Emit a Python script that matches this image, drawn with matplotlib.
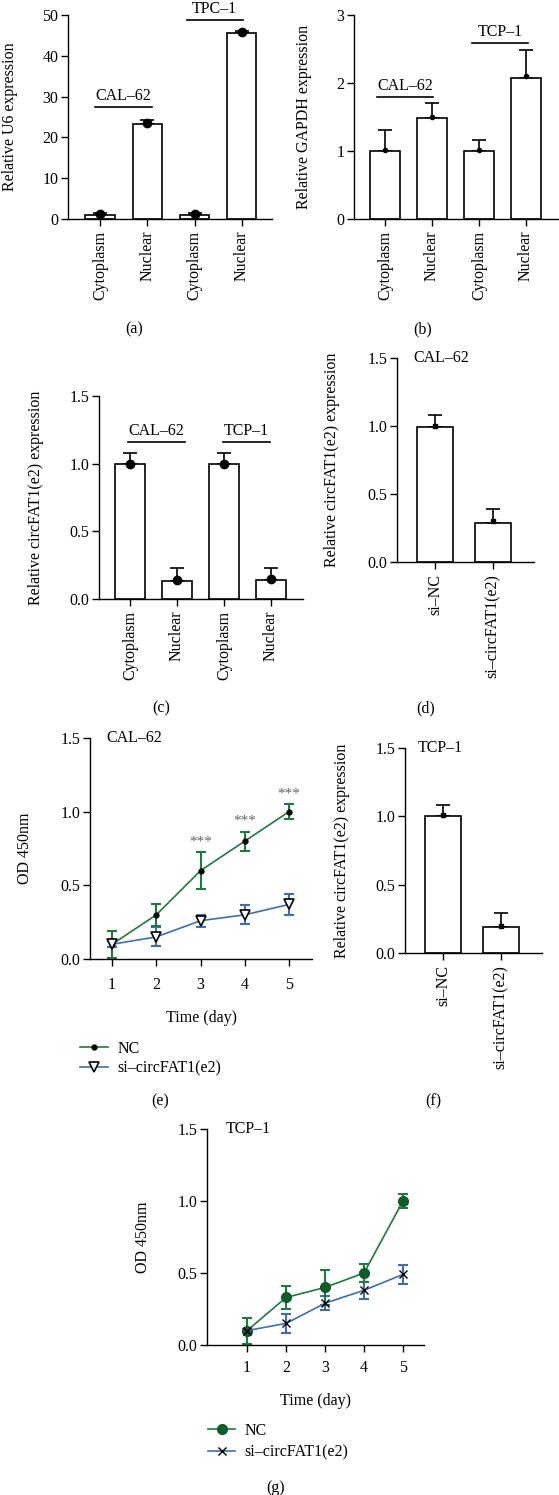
import numpy as np
import matplotlib
matplotlib.use('Agg')
from matplotlib import pyplot as plt

plt.rcParams['font.family'] = ['Liberation Serif', 'DejaVu Serif']
plt.rcParams['font.size'] = 11.5
plt.rcParams['axes.linewidth'] = 1.0
plt.rcParams['xtick.major.width'] = 1.0
plt.rcParams['ytick.major.width'] = 1.0
plt.rcParams['xtick.major.size'] = 5
plt.rcParams['ytick.major.size'] = 5
plt.rcParams['ytick.major.pad'] = 2

# (a) U6
a_labels = ["Cytoplasm", "Nuclear", "Cytoplasm", "Nuclear"]
a_bars = [1.0, 23.2, 1.0, 45.5]
a_pts = [1.2, 23.6, 1.2, 45.8]
a_err = [0.4, 1.0, 0.4, 0.7]

# (b) GAPDH
b_labels = ["Cytoplasm", "Nuclear", "Cytoplasm", "Nuclear"]
b_bars = [1.0, 1.49, 1.0, 2.08]
b_pts = [1.02, 1.5, 1.02, 2.1]
b_err = [0.31, 0.22, 0.16, 0.41]

# (c) circFAT1(e2) localisation
c_labels = ["Cytoplasm", "Nuclear", "Cytoplasm", "Nuclear"]
c_bars = [1.0, 0.13, 1.0, 0.14]
c_pts = [1.0, 0.14, 1.0, 0.15]
c_err = [0.08, 0.10, 0.08, 0.09]

# (d) CAL-62 knockdown, (f) TCP-1 knockdown
kd_labels = ["si–NC", "si–circFAT1(e2)"]
d_bars = [0.99, 0.29]
d_pts = [1.0, 0.3]
d_err = [0.09, 0.10]
f_bars = [1.0, 0.19]
f_pts = [1.01, 0.2]
f_err = [0.08, 0.10]

# (e) CAL-62 CCK-8, (g) TCP-1 CCK-8
days = [1, 2, 3, 4, 5]
e_nc = [0.1, 0.3, 0.6, 0.8, 1.0]
e_nc_err = [0.09, 0.075, 0.125, 0.065, 0.05]
e_si = [0.1, 0.15, 0.26, 0.3, 0.37]
e_si_err = [0.02, 0.065, 0.04, 0.065, 0.07]
e_sig = ["", "", "***", "***", "***"]

g_nc = [0.1, 0.33, 0.4, 0.5, 1.0]
g_nc_err = [0.09, 0.08, 0.12, 0.065, 0.05]
g_si = [0.1, 0.15, 0.29, 0.38, 0.49]
g_si_err = [0.01, 0.065, 0.05, 0.06, 0.065]

W, H = 559, 1495
fig = plt.figure(figsize=(W / 100, H / 100), dpi=100)


def box(l, t, r, b):
    return [l / W, 1 - b / H, (r - l) / W, (b - t) / H]


def fx(px):
    return px / W


def fy(py):
    return 1 - py / H


def clean(ax):
    ax.spines['top'].set_visible(False)
    ax.spines['right'].set_visible(False)


def bar_panel(ax, labels, bars, pts, errs, marker, ms, width):
    x = np.arange(len(bars))
    ax.bar(x, bars, width=width, color='white', edgecolor='black', linewidth=1.2, zorder=2)
    ax.errorbar(x, bars, yerr=[np.zeros(len(bars)), errs], fmt='none', ecolor='black',
                elinewidth=1.2, capsize=5, capthick=1.2, zorder=1)
    ax.plot(x, pts, ls='none', marker=marker, ms=ms, color='black', zorder=3)
    ax.set_xticks(x)
    ax.set_xticklabels(labels, rotation=90)
    clean(ax)


def group(ax, text, x0, x1, y):
    ax.plot([x0, x1], [y, y], color='black', lw=1.2, clip_on=False)
    ax.annotate(text, ((x0 + x1) / 2, y), xytext=(0, 5), textcoords='offset points',
                ha='center', va='baseline', fontsize=11.5, annotation_clip=False)


def ylab(ax, text, right_px, l, r):
    ax.set_ylabel(text)
    ax.yaxis.set_label_coords((right_px - l) / (r - l), 0.5)


# ---- (a)
ax = fig.add_axes(box(68, 15, 272, 219))
bar_panel(ax, a_labels, a_bars, a_pts, a_err, 'o', 6, 0.62)
ax.set_xlim(-0.68, 3.64)
ax.set_ylim(0, 50)
ax.set_yticks([0, 10, 20, 30, 40, 50])
group(ax, "CAL–62", -0.11, 1.1, 27.5)
group(ax, "TPC–1", 1.83, 3.02, 48.8)
ylab(ax, "Relative U6 expression", 18, 68, 272)

# ---- (b)
ax = fig.add_axes(box(354, 15, 558, 219))
bar_panel(ax, b_labels, b_bars, b_pts, b_err, 'o', 3, 0.62)
ax.set_xlim(-0.66, 3.68)
ax.set_ylim(0, 3)
ax.set_yticks([0, 1, 2, 3])
group(ax, "CAL–62", -0.17, 1.02, 1.79)
group(ax, "TCP–1", 1.85, 3.04, 2.59)
ylab(ax, "Relative GAPDH expression", 312, 354, 558)

# ---- (c)
ax = fig.add_axes(box(99, 396, 303, 599))
bar_panel(ax, c_labels, c_bars, c_pts, c_err, 'o', 6, 0.62)
ax.set_xlim(-0.66, 3.68)
ax.set_ylim(0, 1.5)
ax.set_yticks([0, 0.5, 1.0, 1.5])
ax.set_yticklabels(["0.0", "0.5", "1.0", "1.5"])
group(ax, "CAL–62", -0.05, 1.16, 1.16)
group(ax, "TCP–1", 1.98, 2.98, 1.16)
ylab(ax, "Relative circFAT1(e2) expression", 44, 99, 303)

# ---- (d)
ax = fig.add_axes(box(397, 358, 534, 562))
bar_panel(ax, kd_labels, d_bars, d_pts, d_err, 's', 3, 0.63)
ax.set_xlim(-0.66, 1.71)
ax.set_ylim(0, 1.5)
ax.set_yticks([0, 0.5, 1.0, 1.5])
ax.set_yticklabels(["0.0", "0.5", "1.0", "1.5"])
ax.text(0.12, 1.0, "CAL–62", transform=ax.transAxes, va='center', ha='left')
ylab(ax, "Relative circFAT1(e2) expression", 340, 397, 534)

# ---- (f)
ax = fig.add_axes(box(405, 748, 542, 953))
bar_panel(ax, kd_labels, f_bars, f_pts, f_err, 's', 3, 0.63)
ax.set_xlim(-0.66, 1.71)
ax.set_ylim(0, 1.5)
ax.set_yticks([0, 0.5, 1.0, 1.5])
ax.set_yticklabels(["0.0", "0.5", "1.0", "1.5"])
ax.text(0.09, 1.0, "TCP–1", transform=ax.transAxes, va='center', ha='left')
ylab(ax, "Relative circFAT1(e2) expression", 350, 405, 542)

green = '#1f7a3e'
dgreen = '#0e5c2a'
blue = '#3d6db3'

# ---- (e)
ax = fig.add_axes(box(90, 738, 312, 959))
ax.errorbar(days, e_si, yerr=e_si_err, fmt='none', ecolor=blue, elinewidth=1.5, capsize=3.5, capthick=1.5, zorder=2)
ax.errorbar(days, e_nc, yerr=e_nc_err, fmt='none', ecolor=green, elinewidth=1.5, capsize=3.5, capthick=1.5, zorder=2)
l_nc, = ax.plot(days, e_nc, color=green, lw=1.2, marker='o', ms=3.5, mfc='black', mec='black', zorder=3, label='NC')
l_si, = ax.plot(days, e_si, color=blue, lw=1.2, marker='v', ms=7.5, mfc='white', mec='black', mew=1.2, zorder=4,
                label='si–circFAT1(e2)')
for d, v, er, s in zip(days, e_nc, e_nc_err, e_sig):
    if s:
        ax.text(d, v + er + 0.07, s, ha='center', va='center', color='#666666', fontsize=11)
ax.set_xlim(0.5, 5.52)
ax.set_ylim(0, 1.5)
ax.set_xticks(days)
ax.set_yticks([0, 0.5, 1.0, 1.5])
ax.set_yticklabels(["0.0", "0.5", "1.0", "1.5"])
ax.tick_params(axis='x', pad=8)
ax.set_xlabel("Time (day)", labelpad=12)
ax.text(0.072, 1.0, "CAL–62", transform=ax.transAxes, va='center', ha='left')
ylab(ax, "OD 450nm", 33, 90, 312)
clean(ax)
fig.legend([l_nc, l_si], ['NC', 'si–circFAT1(e2)'], loc='upper left',
           bbox_to_anchor=(fx(80), fy(1041)), borderaxespad=0, borderpad=0, frameon=False,
           handlelength=1.75, handletextpad=0.6, labelspacing=0.2)

# ---- (g)
ax = fig.add_axes(box(207, 1129, 424, 1345))
ax.errorbar(days, g_si, yerr=g_si_err, fmt='none', ecolor=blue, elinewidth=1.5, capsize=3.5, capthick=1.5, zorder=2)
ax.errorbar(days, g_nc, yerr=g_nc_err, fmt='none', ecolor=green, elinewidth=1.5, capsize=3.5, capthick=1.5, zorder=2)
l_nc, = ax.plot(days, g_nc, color=green, lw=1.2, marker='o', ms=7, mfc=dgreen, mec=dgreen, zorder=3, label='NC')
l_si, = ax.plot(days, g_si, color=blue, lw=1.2, marker='x', ms=6, mec='black', mew=1.0, zorder=4,
                label='si–circFAT1(e2)')
ax.set_xlim(-0.03, 5.54)
ax.set_ylim(0, 1.5)
ax.set_xticks(days)
ax.set_yticks([0, 0.5, 1.0, 1.5])
ax.set_yticklabels(["0.0", "0.5", "1.0", "1.5"])
ax.tick_params(axis='x', pad=6)
ax.set_xlabel("Time (day)", labelpad=12)
ax.text(0.088, 1.0, "TCP–1", transform=ax.transAxes, va='center', ha='left')
ylab(ax, "OD 450nm", 151, 207, 424)
clean(ax)
fig.legend([l_nc, l_si], ['NC', 'si–circFAT1(e2)'], loc='upper left',
           bbox_to_anchor=(fx(208), fy(1423)), borderaxespad=0, borderpad=0, frameon=False,
           handlelength=1.7, handletextpad=0.6, labelspacing=0.35)

# panel letters
for txt, px, py in [("(a)", 134, 329), ("(b)", 423, 329), ("(c)", 161, 708), ("(d)", 426, 708),
                    ("(e)", 160, 1101), ("(f)", 433, 1101), ("(g)", 276, 1488)]:
    fig.text(fx(px), fy(py), txt, ha='center', va='center')

fig.savefig('out.png', dpi=100)
